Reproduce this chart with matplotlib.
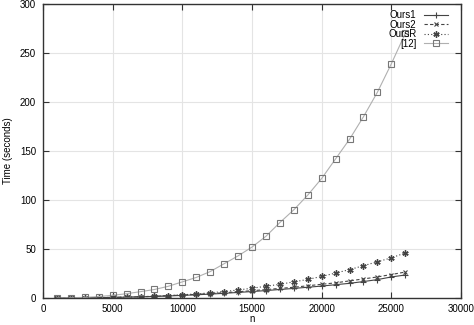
import numpy as np
import matplotlib
matplotlib.use("Agg")
import matplotlib.pyplot as plt

# problem sizes
n = [1000, 2000, 3000, 4000, 5000, 6000, 7000, 8000, 9000, 10000, 11000, 12000, 13000,
     14000, 15000, 16000, 17000, 18000, 19000, 20000, 21000, 22000, 23000, 24000, 25000, 26000]

# running times (seconds)
ours1 = [0.05, 0.1, 0.2, 0.4, 0.6, 0.9, 1.2, 1.6, 2.1, 2.7, 3.3, 4.0, 4.8,
         5.7, 6.6, 7.6, 8.7, 9.8, 11.0, 12.2, 13.6, 15.0, 16.8, 18.8, 21.5, 23.5]
ours2 = [0.05, 0.12, 0.25, 0.45, 0.7, 1.0, 1.3, 1.8, 2.4, 3.0, 3.7, 4.5, 5.4,
         6.4, 7.5, 8.6, 9.8, 11.0, 12.5, 14.0, 15.5, 17.5, 19.5, 21.5, 24.0, 26.5]
oursR = [0.05, 0.1, 0.2, 0.4, 0.6, 0.9, 1.3, 1.8, 2.5, 3.3, 4.2, 5.3, 6.6,
         8.2, 10.0, 12.0, 14.0, 16.5, 19.0, 22.0, 25.5, 29.0, 33.0, 37.0, 41.0, 46.0]
ref12 = [0.1, 0.3, 0.7, 1.5, 2.8, 4.4, 6.5, 8.7, 12.0, 16.5, 21.0, 27.0, 35.0,
         43.0, 52.0, 63.0, 77.0, 90.0, 105.0, 122.0, 142.0, 162.0, 185.0, 210.0, 239.0, 270.0]

xticks = [0, 5000, 10000, 15000, 20000, 25000, 30000]
yticks = [0, 50, 100, 150, 200, 250, 300]

plt.rcParams['font.family'] = ['Liberation Sans', 'DejaVu Sans']
plt.rcParams['font.size'] = 7

fig = plt.figure(figsize=(4.74, 3.25), dpi=100)
ax = fig.add_axes([0.0907, 0.083, 0.8819, 0.9047])

ax.plot(n, ours1, color="#444444", lw=0.8, ls="-", marker="+", ms=4.5, mew=0.8, label="Ours1")
ax.plot(n, ours2, color="#444444", lw=0.8, ls=(0, (3, 2)), marker="x", ms=3.5, mew=0.8, label="Ours2")
ax.plot(n, oursR, color="#444444", lw=0.8, ls=(0, (1, 2)), marker=(6, 2, 0), ms=4.5, mew=1.0, label="OursR")
ax.plot(n, ref12, color="#b0b0b0", lw=0.8, ls="-", marker="s", ms=4, mfc="none",
        mec="#777777", mew=0.8, label="[12]")

ax.set_xlim(0, 30000)
ax.set_ylim(0, 300)
ax.set_xticks(xticks)
ax.set_yticks(yticks)
ax.grid(True, color="#e4e4e4", lw=0.8)
ax.set_axisbelow(True)
ax.tick_params(direction="in", top=True, right=True, length=4, width=0.8, color="#333333", pad=5)
ax.tick_params(axis="x", pad=4)
for s in ax.spines.values():
    s.set_color("#333333")
    s.set_linewidth(1.0)

ax.set_xlabel("n", labelpad=0)
ax.set_ylabel("Time (seconds)", labelpad=5)

leg = ax.legend(loc="upper right", bbox_to_anchor=(0.985, 1.0), markerfirst=False, frameon=False,
                handlelength=2.5, handletextpad=0.8, labelspacing=-0.05, borderaxespad=0.25, fontsize=7)
for t in leg.get_texts():
    t.set_ha("right")

fig.savefig("out.png", dpi=100)
